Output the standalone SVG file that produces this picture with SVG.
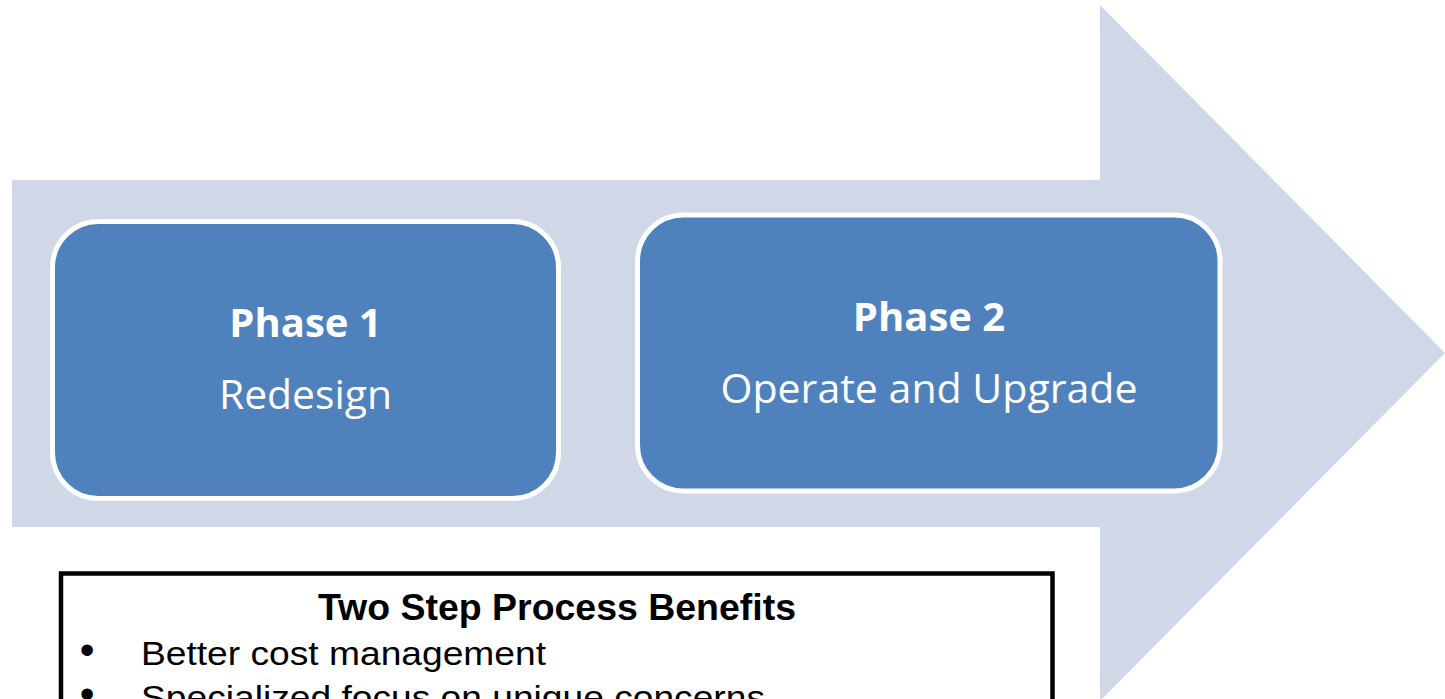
<svg xmlns="http://www.w3.org/2000/svg" width="1445" height="699" viewBox="0 0 1445 699">
  <style>
    .arrow { fill: #D0D8E8; }
    .phase { fill: #4F81BD; stroke: #FFFFFF; stroke-width: 5; }
    .ptitle { font-family: "Open Sans", "Noto Sans", sans-serif; font-weight: bold; font-size: 40px; fill: #FFFFFF; text-anchor: middle; }
    .psub { font-family: "Open Sans", "Noto Sans", sans-serif; font-size: 40px; fill: #FFFFFF; text-anchor: middle; }
    .box { fill: #FFFFFF; stroke: #000000; stroke-width: 4.5; }
    .btitle { font-family: "Liberation Sans", Arial, sans-serif; font-weight: bold; font-size: 36px; fill: #000000; }
    .bitem { font-family: "Liberation Sans", Arial, sans-serif; font-size: 33px; fill: #000000; }
    .bullet { font-family: "Liberation Sans", Arial, sans-serif; font-size: 42px; fill: #000000; text-anchor: middle; }
  </style>

  <!-- Background process arrow -->
  <g id="process-arrow">
    <polygon class="arrow" points="12,180 1100,180 1100,5 1445,353 1100,701 1100,527 12,527"/>
  </g>

  <!-- Phase 1 -->
  <g id="phase-1">
    <rect class="phase" x="52.5" y="221.5" width="506" height="277" rx="46" ry="46"/>
    <text class="ptitle" x="305.5" y="337">Phase 1</text>
    <text class="psub" x="305.5" y="409" textLength="173" lengthAdjust="spacingAndGlyphs">Redesign</text>
  </g>

  <!-- Phase 2 -->
  <g id="phase-2">
    <rect class="phase" x="637.5" y="215" width="582.5" height="276" rx="46" ry="46"/>
    <text class="ptitle" x="929" y="331">Phase 2</text>
    <text class="psub" x="929" y="403" textLength="417" lengthAdjust="spacingAndGlyphs">Operate and Upgrade</text>
  </g>

  <!-- Benefits list -->
  <g id="benefits">
    <rect class="box" x="61" y="573.5" width="991.5" height="160"/>
    <text class="btitle" x="318" y="620" textLength="478" lengthAdjust="spacingAndGlyphs">Two Step Process Benefits</text>
    <text class="bullet" x="87" y="664">•</text>
    <text class="bitem" x="141" y="665" textLength="405" lengthAdjust="spacingAndGlyphs">Better cost management</text>
    <text class="bullet" x="87" y="708">•</text>
    <text class="bitem" x="141" y="709" textLength="624" lengthAdjust="spacingAndGlyphs">Specialized focus on unique concerns</text>
  </g>

  <!-- Connectors: none between phases; the flow is carried by the arrow shape -->
  <g id="connectors"/>
</svg>
